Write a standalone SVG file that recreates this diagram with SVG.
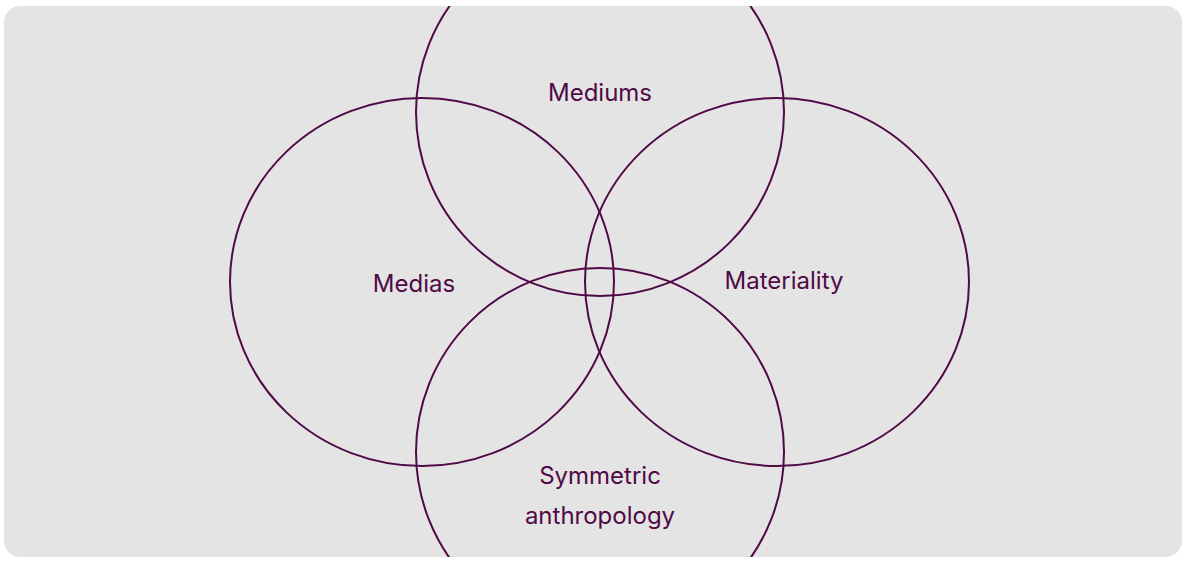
<svg xmlns="http://www.w3.org/2000/svg" width="1186" height="566" viewBox="0 0 1186 566">
<style>
.c{fill:none;stroke:#4f0a47;stroke-width:2}
.t{font-family:Inter,"Liberation Sans",sans-serif;font-size:24px;fill:#4f0a47;text-anchor:middle}
</style>
<defs><clipPath id="clip"><rect x="4" y="6" width="1178" height="551" rx="16"/></clipPath></defs>
<rect x="4" y="6" width="1178" height="551" rx="16" fill="#e5e4e4"/>
<g clip-path="url(#clip)">
<g id="mediums"><ellipse class="c" cx="600" cy="112" rx="184" ry="184"/><text class="t" x="600" y="101">Mediums</text></g>
<g id="medias"><ellipse class="c" cx="422" cy="282" rx="192" ry="184"/><text class="t" x="414" y="292">Medias</text></g>
<g id="materiality"><ellipse class="c" cx="777" cy="282" rx="192" ry="184"/><text class="t" x="784" y="289">Materiality</text></g>
<g id="symmetric"><ellipse class="c" cx="600" cy="452" rx="184" ry="184"/><text class="t" x="600" y="484">Symmetric</text><text class="t" x="600" y="524">anthropology</text></g>
</g>
<g id="connectors"/>
</svg>
